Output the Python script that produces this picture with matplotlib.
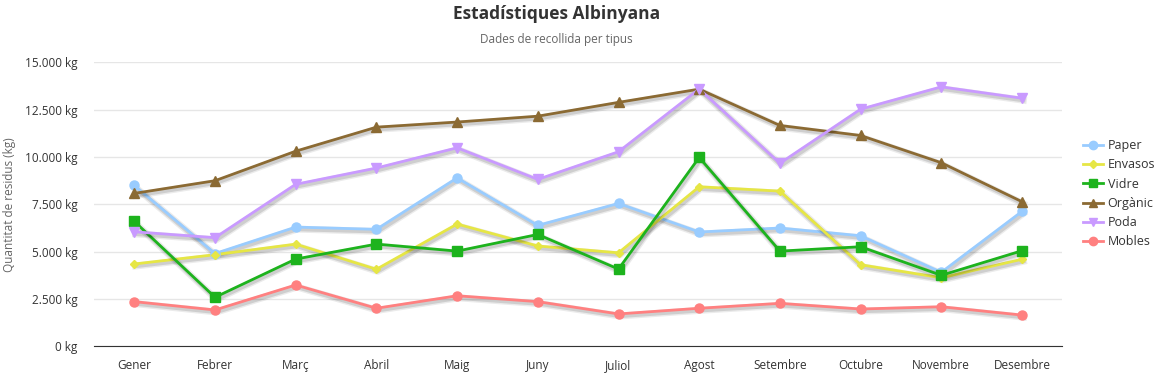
import matplotlib
matplotlib.use('Agg')
import matplotlib.pyplot as plt
import matplotlib.patheffects as pe
from matplotlib.ticker import FuncFormatter, MultipleLocator
from matplotlib.lines import Line2D

plt.rcParams['font.family'] = ['Open Sans', 'DejaVu Sans']

mesos = ['Gener', 'Febrer', 'Març', 'Abril', 'Maig', 'Juny', 'Juliol',
         'Agost', 'Setembre', 'Octubre', 'Novembre', 'Desembre']

paper = [8500, 4900, 6300, 6180, 8900, 6390, 7550, 6040, 6250, 5840, 3910, 7130]
envasos = [4350, 4840, 5400, 4070, 6460, 5300, 4940, 8430, 8200, 4310, 3620, 4600]
vidre = [6600, 2590, 4610, 5400, 5030, 5910, 4080, 9980, 5030, 5260, 3750, 5050]
organic = [8080, 8750, 10310, 11580, 11850, 12160, 12890, 13590, 11670, 11140, 9700, 7640]
poda = [6050, 5740, 8560, 9420, 10490, 8820, 10280, 13600, 9670, 12530, 13710, 13110]
mobles = [2360, 1920, 3240, 2010, 2670, 2360, 1710, 2010, 2270, 1970, 2090, 1650]

series = [
    ('Paper', paper, '#99ccff', 'o', 6.5),
    ('Envasos', envasos, '#e6e645', 'D', 4.5),
    ('Vidre', vidre, '#1db31d', 's', 6.5),
    ('Orgànic', organic, '#8b6a33', '^', 6.5),
    ('Poda', poda, '#c99aff', 'v', 6.5),
    ('Mobles', mobles, '#ff8080', 'o', 6.5),
]

fig = plt.figure(figsize=(11.57, 3.8), dpi=100)
ax = fig.add_axes([0.0812, 0.0887, 0.837, 0.747])

x = list(range(len(mesos)))
shadow = [pe.SimpleLineShadow(offset=(1, -1.5), shadow_color='#000000', alpha=0.08, linewidth=5),
          pe.SimpleLineShadow(offset=(1, -1.5), shadow_color='#000000', alpha=0.12, linewidth=3),
          pe.Normal()]
handles = []
for name, vals, col, mk, ms in series:
    ax.plot(x, vals, color=col, lw=2, path_effects=shadow, zorder=3)
    ax.plot(x, vals, color=col, lw=0, marker=mk, markersize=ms,
            markeredgecolor=col, zorder=4)
    handles.append(Line2D([0], [0], color=col, lw=2, marker=mk, markersize=ms - 0.5,
                          markeredgecolor=col, label=name))

ax.set_xlim(-0.5, 11.5)
ax.set_ylim(0, 15000)
ax.yaxis.set_major_locator(MultipleLocator(2500))
ax.yaxis.set_major_formatter(FuncFormatter(lambda v, p: '{:,.0f} kg'.format(v).replace(',', '.')))
ax.set_xticks(x)
ax.set_xticklabels(mesos)
ax.grid(axis='y', color='#e6e6e6', lw=1)
ax.set_axisbelow(True)
for s in ['top', 'right', 'left']:
    ax.spines[s].set_visible(False)
ax.spines['bottom'].set_color('#333333')
ax.tick_params(axis='both', length=0, labelsize=8.5, colors='#333333')
ax.tick_params(axis='x', pad=9)
ax.tick_params(axis='y', pad=12)
ax.set_ylabel('Quantitat de residus (kg)', fontsize=8.5, color='#666666')
ax.yaxis.set_label_coords(-0.08, 0.5)

fig.text(0.481, 0.962, 'Estadístiques Albinyana', ha='center', va='center',
         fontsize=12.5, fontweight='bold', color='#333333')
fig.text(0.481, 0.896, 'Dades de recollida per tipus', ha='center', va='center',
         fontsize=8.5, color='#666666')

fig.legend(handles=handles, loc='center left', bbox_to_anchor=(0.926, 0.49),
           frameon=False, fontsize=9, handlelength=1.6, handletextpad=0.4,
           labelspacing=0.5, labelcolor='#333333')

fig.savefig('out.png', dpi=100)
